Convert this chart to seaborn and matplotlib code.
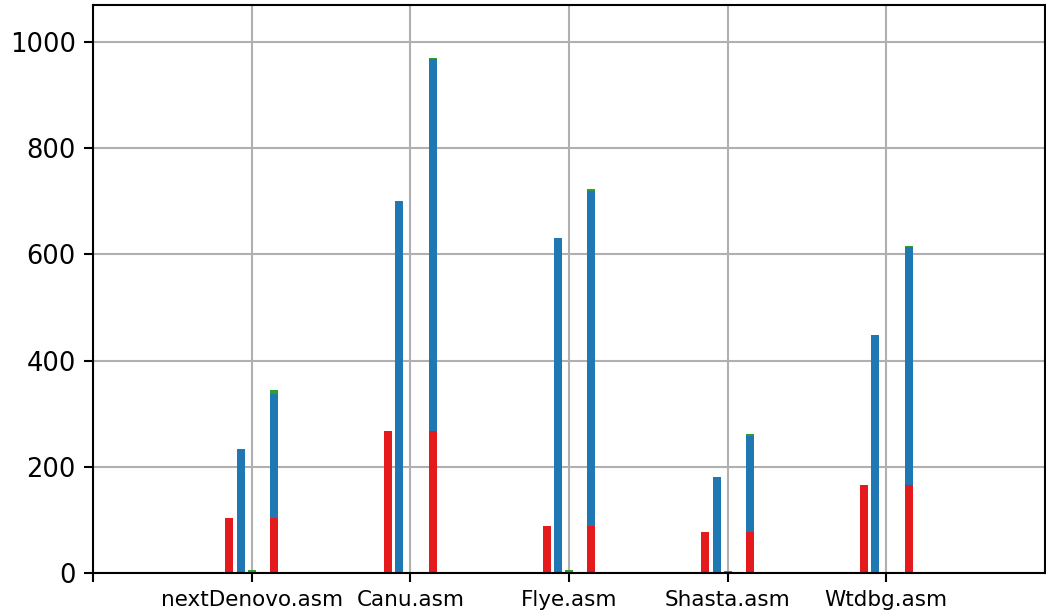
import numpy as np
import pandas as pd
import matplotlib
matplotlib.use("Agg")
import matplotlib.pyplot as plt
import seaborn as sns

# === Data ===
assemblies = ["nextDenovo.asm", "Canu.asm", "Flye.asm", "Shasta.asm", "Wtdbg.asm"]
red_vals = [104, 268, 88, 77, 166]
blue_vals = [234, 701, 631, 181, 448]
green_vals = [6, 2, 5, 3, 2]

red_col = "#e41a1c"
blue_col = "#1f77b4"
green_col = "#2ca02c"

pos = np.arange(1, len(assemblies) + 1)
step = 0.07
bar_w = 0.05

df = pd.DataFrame({
    "pos": pos,
    "red": red_vals,
    "blue": blue_vals,
    "green": green_vals,
})
df["red_blue"] = df["red"] + df["blue"]
df["total"] = df["red_blue"] + df["green"]

fig = plt.figure(figsize=(10.46, 6.15), dpi=100)
ax = fig.add_axes([93 / 1046, 42 / 615, 952 / 1046, 568 / 615])
ax.set_axisbelow(True)

# single bars
for off, col, c in [(-2 * step, "red", red_col), (-step, "blue", blue_col), (0, "green", green_col)]:
    sns.barplot(x=df["pos"] + off, y=df[col], native_scale=True, width=bar_w,
                color=c, saturation=1, ax=ax, errorbar=None)

# stacked bar: draw cumulative totals back to front
for col, c in [("total", green_col), ("red_blue", blue_col), ("red", red_col)]:
    sns.barplot(x=df["pos"] + 2 * step, y=df[col], native_scale=True, width=bar_w,
                color=c, saturation=1, ax=ax, errorbar=None)

ax.set_xlim(0, 6)
ax.set_ylim(0, 1070)
ax.set_xticks(np.arange(0, 6))
ax.set_xticklabels([""] + assemblies, fontsize=15.5)
ax.set_yticks([0, 200, 400, 600, 800, 1000])
ax.tick_params(axis="y", labelsize=18.5)
ax.tick_params(length=6.5, width=1.5, color="black", pad=6)
ax.set_xlabel("")
ax.set_ylabel("")
ax.grid(True, color="#b0b0b0", linewidth=1.5)
for s in ax.spines.values():
    s.set_linewidth(1.5)
    s.set_color("black")

fig.savefig("out.png", dpi=100)
